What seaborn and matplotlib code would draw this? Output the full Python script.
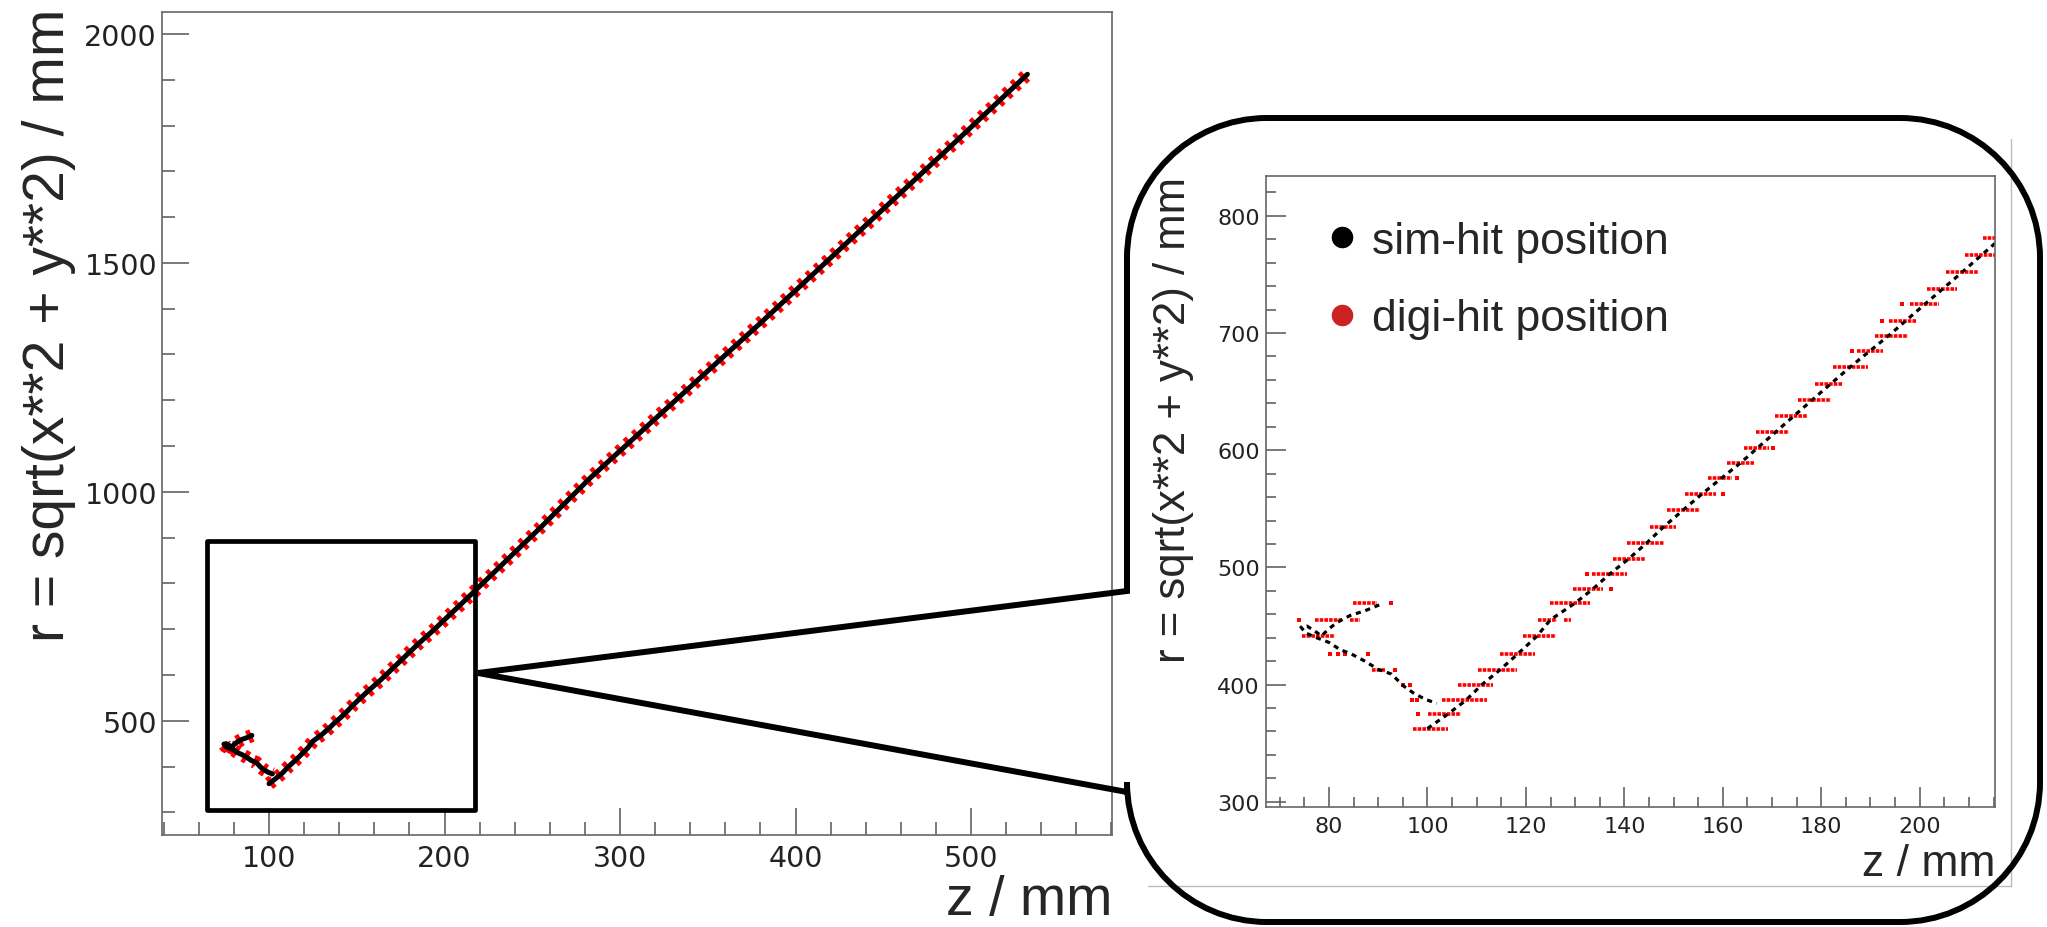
import matplotlib
matplotlib.use("Agg")
import matplotlib.pyplot as plt
import matplotlib.patches as mpatches
from matplotlib.path import Path
from matplotlib.lines import Line2D
from matplotlib.ticker import MultipleLocator
import seaborn as sns

# sim-hit track, curling part near the start (z, r in mm)
loop_z = [90.2, 87.3, 84.3, 81.6, 79.8, 78.5, 77.0, 75.5, 74.3, 75.3, 77.5, 80.0,
          82.2, 84.6, 87.3, 90.0, 92.7, 95.1, 97.1, 99.5, 101.9]
loop_r = [468.0, 463.0, 459.0, 453.0, 447.0, 441.5, 446.0, 450.0, 449.0, 444.0, 440.0, 436.0,
          430.0, 426.0, 420.0, 413.0, 409.0, 399.0, 393.0, 387.5, 384.0]
# sim-hit track, outgoing part
rise_z = [100.0, 104.1, 107.8, 111.0, 114.7, 118.4, 122.2, 125.0, 129.9, 133.5, 137.0,
          140.9, 144.5, 148.0, 155.8, 163.6, 170.7, 178.1, 185.9, 193.7, 201.1, 208.6,
          212.5, 216.0, 254.4, 282.9, 379.8, 483.2, 532.1]
rise_r = [362.5, 374.7, 386.6, 399.7, 412.5, 426.4, 441.2, 455.4, 469.3, 481.2, 494.3,
          507.4, 520.7, 534.7, 562.8, 589.2, 615.4, 642.7, 671.1, 697.8, 724.8, 751.8,
          766.3, 779.0, 921.0, 1030.0, 1368.0, 1736.0, 1912.0]

# digi-hit rows (r level, first z, last z)
row_r = [362.5, 374.7, 386.6, 399.7, 412.5, 426.4, 441.2, 455.4, 455.4, 469.3, 481.2,
         494.3, 507.4, 520.7, 534.7, 548.6, 562.8, 576.4, 589.2, 602.0, 615.4, 629.0,
         642.7, 656.6, 671.1, 685.0, 697.8, 710.6, 724.8, 737.9, 751.8, 766.3, 780.7,
         412.5, 441.2, 455.4, 455.4, 469.3]
row_z0 = [97.1, 100.2, 102.9, 106.3, 110.3, 114.7, 119.5, 122.5, 127.8, 124.8, 129.5,
          133.5, 137.7, 140.5, 145.2, 148.7, 152.3, 156.9, 160.8, 164.3, 166.8, 170.7,
          175.3, 178.8, 182.4, 187.3, 190.9, 193.7, 198.0, 201.5, 205.4, 209.2, 212.8,
          88.7, 74.5, 77.2, 84.3, 84.9]
row_z1 = [104.2, 106.9, 112.0, 113.4, 118.1, 121.8, 126.2, 126.4, 129.2, 133.0, 135.7,
          140.5, 144.2, 148.1, 150.5, 155.4, 158.6, 161.8, 166.4, 169.3, 173.5, 177.1,
          182.0, 184.5, 189.5, 192.6, 197.6, 199.4, 204.0, 207.5, 211.9, 215.3, 215.5,
          91.4, 81.2, 82.6, 86.3, 89.7]
# isolated digi hits
solo_z = [98.1, 96.8, 97.9, 95.1, 96.4, 93.4, 80.2, 81.8, 83.2, 88.0, 73.9, 92.5,
          137.2, 132.4, 160.1, 162.9, 170.3, 186.3, 192.3, 196.5]
solo_r = [374.7, 386.6, 386.6, 399.7, 399.7, 412.5, 426.4, 426.4, 426.4, 426.4, 455.4, 469.3,
          481.2, 494.3, 562.8, 576.4, 602.0, 685.0, 710.6, 724.8]

legend_labels = ["sim-hit position", "digi-hit position"]
ylab = "r = sqrt(x**2 + y**2) / mm"
xlab = "z / mm"

W, H = 2047, 928


def fx(x):
    return x / W


def fy(y):
    return 1 - y / H


sns.set_theme(style="white")
plt.rcParams["font.family"] = ["Liberation Sans", "DejaVu Sans"]

fig = plt.figure(figsize=(W / 100, H / 100), dpi=100)
ax = fig.add_axes([fx(162), fy(836), (1112 - 162) / W, (836 - 13) / H])
axi = fig.add_axes([fx(1266), fy(807.5), (1995 - 1266) / W, (807.5 - 177) / H])

# ---- main view
for zz, rr in [(loop_z, loop_r), (rise_z, rise_r)]:
    sns.lineplot(x=zz, y=rr, sort=False, estimator=None, ax=ax, color="#ff0000",
                 lw=9.5, linestyle=(0, (0.35, 0.5)), solid_capstyle="butt")
for zz, rr in [(loop_z, loop_r), (rise_z, rise_r)]:
    sns.lineplot(x=zz, y=rr, sort=False, estimator=None, ax=ax, color="black",
                 lw=3.6, solid_capstyle="round")
ax.set_xlim(39, 580.3)
ax.set_ylim(250.5, 2048)
ax.xaxis.set_major_locator(MultipleLocator(100))
ax.xaxis.set_minor_locator(MultipleLocator(20))
ax.yaxis.set_major_locator(MultipleLocator(500))
ax.yaxis.set_minor_locator(MultipleLocator(100))
ax.add_patch(mpatches.Rectangle((64.5, 305), 217.4 - 64.5, 892 - 305, fill=False,
                                ec="black", lw=3.4, joinstyle="round", zorder=5))

# ---- zoomed view
axi.hlines(row_r, row_z0, row_z1, colors="#ff0000", lw=2.6,
           linestyles=[(0, (1.0, 0.3))])
sns.scatterplot(x=solo_z, y=solo_r, ax=axi, color="#ff0000", s=8, marker="s",
                linewidth=0)
for zz, rr in [(loop_z, loop_r), (rise_z, rise_r)]:
    sns.lineplot(x=zz, y=rr, sort=False, estimator=None, ax=axi, color="black",
                 lw=2.3, linestyle=(0, (1.6, 1.5)))
axi.set_xlim(67.2, 215.3)
axi.set_ylim(296, 834)
axi.xaxis.set_major_locator(MultipleLocator(20))
axi.xaxis.set_minor_locator(MultipleLocator(5))
axi.yaxis.set_major_locator(MultipleLocator(100))
axi.yaxis.set_minor_locator(MultipleLocator(20))

for a, big, small, fs, padx, pady in [(ax, 19.4, 9.4, 20.5, 6.5, 3.6),
                                      (axi, 14.4, 7.2, 16, 6.8, 4.3)]:
    a.set_xlabel("")
    a.set_ylabel("")
    a.tick_params(which="both", direction="in", bottom=True, left=True, top=False,
                  right=False, color="#555555", width=1.1, labelcolor="#222222")
    a.tick_params(which="major", length=big, labelsize=fs)
    a.tick_params(which="minor", length=small)
    a.tick_params(axis="x", which="major", pad=padx)
    a.tick_params(axis="y", which="major", pad=pady)
    for lab in a.get_xticklabels() + a.get_yticklabels():
        lab.set_family("DejaVu Sans")
    for s in a.spines.values():
        s.set_color("#666666")
        s.set_linewidth(1.2)
    a.set_facecolor("white")

handles = [Line2D([], [], ls="none", marker="o", ms=14.5, color="black"),
           Line2D([], [], ls="none", marker="o", ms=14.5, color="#cc2222")]
fig.legend(handles, legend_labels, loc="upper left", bbox_to_anchor=(fx(1320), fy(222)),
           bbox_transform=fig.transFigure, frameon=False, fontsize=32, handlelength=1.0,
           handletextpad=0.18, labelspacing=0.82, borderpad=0, borderaxespad=0)

fig.text(fx(49), fy(9), ylab, rotation=90, ha="center", va="top", fontsize=41)
fig.text(fx(1112), fy(927), xlab, ha="right", va="bottom", fontsize=40)
fig.text(fx(1173), fy(177), ylab, rotation=90, ha="center", va="top", fontsize=31.5)
fig.text(fx(1995), fy(876), xlab, ha="right", va="baseline", fontsize=32)

# callout frame pointing from the box to the zoomed panel
L, T, R, B, rad = 1127, 119, 2040, 923, 140
tip = (478, 674)
k = 0.5523
pts = [tip, (L, 592), (L, T + rad),
       (L, T + rad * (1 - k)), (L + rad * (1 - k), T), (L + rad, T),
       (R - rad, T),
       (R - rad * (1 - k), T), (R, T + rad * (1 - k)), (R, T + rad),
       (R, B - rad),
       (R, B - rad * (1 - k)), (R - rad * (1 - k), B), (R - rad, B),
       (L + rad, B),
       (L + rad * (1 - k), B), (L, B - rad * (1 - k)), (L, B - rad),
       (L, 793), tip, tip]
codes = [Path.MOVETO, Path.LINETO, Path.LINETO,
         Path.CURVE4, Path.CURVE4, Path.CURVE4,
         Path.LINETO,
         Path.CURVE4, Path.CURVE4, Path.CURVE4,
         Path.LINETO,
         Path.CURVE4, Path.CURVE4, Path.CURVE4,
         Path.LINETO,
         Path.CURVE4, Path.CURVE4, Path.CURVE4,
         Path.LINETO, Path.LINETO, Path.CLOSEPOLY]
path = Path([(fx(x), fy(y)) for x, y in pts], codes)
fig.add_artist(mpatches.PathPatch(path, fill=False, ec="black", lw=4.3,
                                  joinstyle="miter", transform=fig.transFigure, zorder=10))

# edges of the pasted canvas
fig.add_artist(Line2D([fx(2011), fx(2011)], [fy(140), fy(887)], color="#bbbbbb", lw=1.0,
                      transform=fig.transFigure))
fig.add_artist(Line2D([fx(1148), fx(2011)], [fy(887), fy(887)], color="#bbbbbb", lw=1.0,
                      transform=fig.transFigure))

fig.savefig("out.png", dpi=100, facecolor="white")
